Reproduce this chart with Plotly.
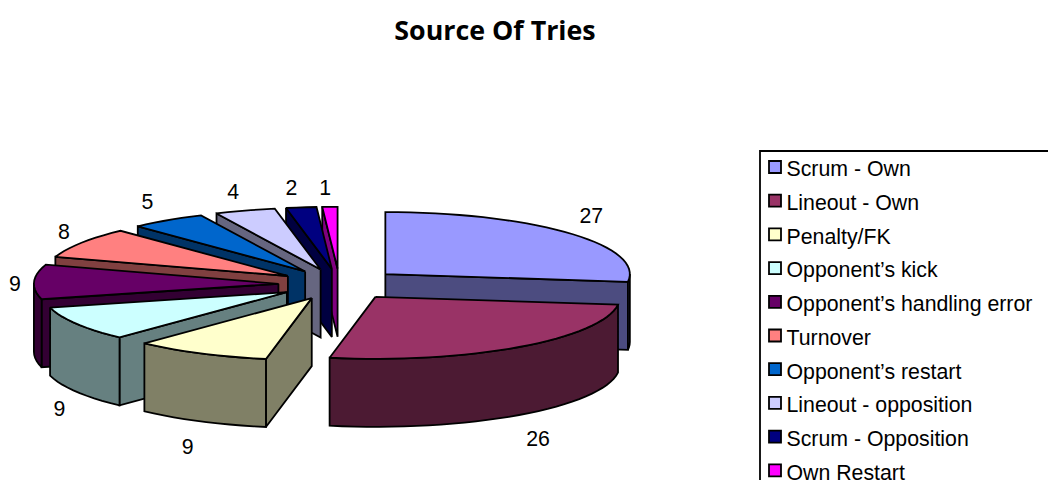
import math
import plotly.graph_objects as go

title = "Source Of Tries"
categories = ["Scrum - Own", "Lineout - Own", "Penalty/FK", "Opponent’s kick",
              "Opponent’s handling error", "Turnover", "Opponent’s restart",
              "Lineout - opposition", "Scrum - Opposition", "Own Restart"]
values = [27, 26, 9, 9, 9, 8, 5, 4, 2, 1]
colors = ["#9999FF", "#993366", "#FFFFCC", "#CCFFFF", "#660066",
          "#FF8080", "#0066CC", "#CCCCFF", "#000080", "#FF00FF"]

W, H = 1048, 480
CX, CY, RX, RY, DEPTH, EXPLODE = 339.5, 284.3, 244.5, 62, 68, 0.25
FONT = "Liberation Sans"
FONT_SIZE = 21.3
LINE = 1.8
# small hand offsets of each value label from its computed anchor (pixels)
LABEL_NUDGE_X = [9, 9, 0, 5, 6, 4, -5, -2, -4, -1]
LABEL_NUDGE_Y = [-1, 8, 8, 8, 5, 3, 2, 4, 4, 5]


def dark(hex_color):
    r, g, b = (int(hex_color[i:i + 2], 16) for i in (1, 3, 5))
    return f"rgb({round(r / 2)},{round(g / 2)},{round(b / 2)})"


def point(apex, deg, depth=0.0):
    t = math.radians(deg)
    return apex[0] + RX * math.sin(t), apex[1] - RY * math.cos(t) + depth


def arc(apex, a, b, depth=0.0):
    n = max(2, int(abs(b - a) / 3) + 1)
    return [point(apex, a + (b - a) * i / n, depth) for i in range(n + 1)]


def poly(fig, pts, fill):
    xs = [p[0] for p in pts] + [pts[0][0]]
    ys = [p[1] for p in pts] + [pts[0][1]]
    fig.add_trace(go.Scatter(x=xs, y=ys, mode="lines", fill="toself", fillcolor=fill,
                             line=dict(color="black", width=LINE, simplify=False),
                             hoverinfo="skip", showlegend=False))


total = sum(values)
slices = []
start = 0.0
for v in values:
    end = start + v / total * 360
    mid = math.radians((start + end) / 2)
    apex = (CX + EXPLODE * RX * math.sin(mid), CY - EXPLODE * RY * math.cos(mid))
    slices.append((start, end, mid, apex))
    start = end

fig = go.Figure()
order = [0] + list(range(len(values) - 1, 0, -1))
for i in order:
    a, b, mid, apex = slices[i]
    shade = dark(colors[i])
    low = (apex[0], apex[1] + DEPTH)
    if math.sin(math.radians(a)) < 0:
        poly(fig, [apex, point(apex, a), point(apex, a, DEPTH), low], shade)
    if math.sin(math.radians(b)) > 0:
        poly(fig, [apex, point(apex, b), point(apex, b, DEPTH), low], shade)
    ra, rb = max(a, 90), min(b, 270)
    if rb > ra:
        poly(fig, arc(apex, ra, rb) + arc(apex, rb, ra, DEPTH), shade)
    poly(fig, [apex] + arc(apex, a, b), colors[i])

# value labels, placed just outside each slice's rim
lx, ly = [], []
for i, (a, b, mid, apex) in enumerate(slices):
    px = apex[0] + RX * math.sin(mid) + 22 * math.sin(mid)
    py = apex[1] - RY * math.cos(mid) - 22 * math.cos(mid)
    if math.cos(mid) < 0:
        py += DEPTH
    lx.append(px - 3 + LABEL_NUDGE_X[i])
    ly.append(py + LABEL_NUDGE_Y[i])
fig.add_trace(go.Scatter(x=lx, y=ly, mode="text", text=[str(v) for v in values],
                         textposition="middle center",
                         textfont=dict(family=FONT, size=FONT_SIZE, color="black"),
                         hoverinfo="skip", showlegend=False))

# legend box, running off the right and bottom edges like the reference
fig.add_shape(type="rect", x0=760, x1=W + 20, y0=151, y1=H + 20,
              line=dict(color="black", width=1.8), fillcolor="white", layer="below")
rows = [167 + 33.7 * i for i in range(len(categories))]
fig.add_trace(go.Scatter(x=[775] * len(categories), y=rows, mode="markers",
                         marker=dict(symbol="square", size=12, color=colors,
                                     line=dict(color="black", width=1.8)),
                         hoverinfo="skip", showlegend=False))
fig.add_trace(go.Scatter(x=[786.5] * len(categories), y=[r + 4 for r in rows], mode="text",
                         text=categories, textposition="middle right",
                         textfont=dict(family=FONT, size=FONT_SIZE, color="black"),
                         hoverinfo="skip", showlegend=False))

fig.update_layout(
    width=W, height=H, margin=dict(l=0, r=0, t=0, b=0), autosize=False,
    paper_bgcolor="white", plot_bgcolor="white", showlegend=False,
    title=dict(text=f"<b>{title}</b>", x=495 / W, xanchor="center", y=1 - 31 / H, yanchor="middle",
               font=dict(family="Open Sans", size=26.8, color="black")),
    xaxis=dict(range=[0, W], visible=False, fixedrange=True),
    yaxis=dict(range=[H, 0], visible=False, fixedrange=True),
)
fig.write_html("out.html", post_script="document.body.style.margin='0';",
               config={"displayModeBar": False})
